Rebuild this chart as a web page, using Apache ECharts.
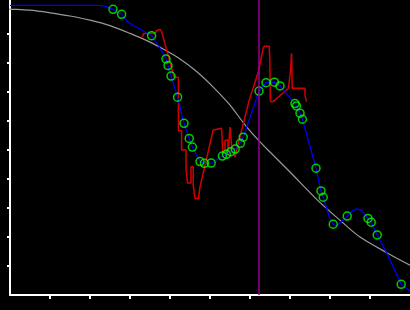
<!DOCTYPE html>
<html>
<head>
<meta charset="utf-8">
<script src="https://cdn.jsdelivr.net/npm/echarts@6/dist/echarts.min.js"></script>
<style>html,body{margin:0;padding:0;background:#000;}#c{width:410px;height:310px;}</style>
</head>
<body>
<div id="c"></div>
<script>
// Gray reference curve [x, y]
const grayCurve = [[-2.5,98.8],[0,98.6],[5,98.2],[10,97.3],[15,96.2],[20,94.8],[25,92.9],[30,90.2],[35,87.2],[38.3,84.8],[42.5,81.4],[46.8,76.9],[50.8,71.7],[55,65.5],[58.8,58.6],[62.5,52.8],[65,49.3],[70,42.4],[76.8,32.8],[83.3,24.8],[87.5,20.0],[94.3,14.5],[100,10.3]];
// Blue fitted curve
const blueCurve = [[0,99.9],[12.5,99.9],[21.75,99.9],[23.75,99.6],[25.75,98.5],[27.9,96.8],[29.25,94.5],[30.75,92.9],[32.5,91.7],[35.4,89.4],[37,86.2],[38.25,83.4],[39,81.4],[39.5,79.1],[40.25,75.5],[41.9,68.2],[43.5,59.2],[44.8,54.0],[45.6,51.0],[47.5,46.0],[48.6,45.4],[50.3,45.5],[53.1,47.9],[54.1,48.5],[55.2,49.4],[56.3,50.3],[57.6,52.3],[58.3,54.4],[62.25,70.3],[64,73.2],[66.1,73.4],[67.5,72.1],[71.25,66.0],[71.6,65.2],[72.5,62.7],[73.1,60.6],[76.5,43.7],[77.75,35.9],[78.3,33.7],[80,26.2],[80.8,24.4],[81.5,23.8],[82.75,25.2],[84.3,27.2],[85.5,29.0],[86.75,29.7],[88,29.0],[89.5,26.4],[90.3,25.1],[91.8,20.7],[94.2,14.4],[97.8,3.7],[100,1.4]];
// Green observation markers
const markerPoints = [[25.75,98.5],[27.9,96.8],[35.4,89.4],[39,81.4],[39.5,79.1],[40.25,75.5],[41.9,68.2],[43.5,59.2],[44.8,54.0],[45.6,51.0],[47.5,46.0],[48.6,45.4],[50.3,45.5],[53.1,47.9],[54.1,48.5],[55.2,49.4],[56.3,50.3],[57.6,52.3],[58.3,54.4],[62.25,70.3],[64,73.2],[66.1,73.4],[67.5,72.1],[71.25,66.0],[71.6,65.2],[72.5,62.7],[73.1,60.6],[76.5,43.7],[77.75,35.9],[78.3,33.7],[80.8,24.4],[84.3,27.2],[89.5,26.4],[90.3,25.1],[91.8,20.7],[97.8,3.7]];
// Red raw trace
const redTrace = [[33.1,88.9],[33.4,90.2],[34.6,90.2],[36.25,90.2],[36.7,91.1],[37.5,91.6],[37.9,90.8],[41,75.2],[42.1,75.0],[42.1,56.6],[42.9,56.6],[42.9,50.0],[44,50.0],[44,43.1],[44.4,43.1],[44.4,38.6],[45.25,38.6],[45.25,44.2],[45.8,44.2],[45.8,37.9],[46.25,37.9],[46.25,33.3],[47.1,33.3],[47.5,37.3],[50.8,56.9],[52.9,57.5],[53.2,57.5],[53.2,49.0],[53.75,49.0],[53.75,53.4],[54.5,53.4],[54.5,48.3],[55,48.3],[55,57.9],[55.4,57.9],[55.5,50.0],[56.25,47.6],[59.8,67.2],[62.1,77.0],[63.3,85.1],[63.6,85.8],[64.8,85.8],[64.95,81.0],[65.1,66.7],[65.8,66.7],[69.6,71.3],[70.1,71.3],[70.1,77.0],[70.4,77.0],[70.4,83.3],[70.55,83.3],[70.55,71.3],[73.75,71.3],[73.75,69.0],[74.1,69.0],[74.1,66.7]];
// Vertical marker position
const verticalX = 62.1;
const xTicks = [10,20,30,40,50,60,70,80,90];
const yTicks = [10,20,30,40,50,60,70,80,90];

const chart = echarts.init(document.getElementById('c'), null, {renderer:'canvas'});
chart.setOption({
  backgroundColor:'#000000',
  animation:false,
  grid:{left:10, right:0, top:0, bottom:15, containLabel:false},
  xAxis:{type:'value', min:0, max:100, interval:10,
    axisLine:{show:true, onZero:false, lineStyle:{color:'#ffffff', width:2}},
    axisTick:{show:true, length:4, customValues:xTicks, lineStyle:{color:'#ffffff', width:2}},
    axisLabel:{show:false}, splitLine:{show:false}},
  yAxis:{type:'value', min:0, max:101.72,
    axisLine:{show:true, onZero:false, lineStyle:{color:'#ffffff', width:2}},
    axisTick:{show:true, length:3, customValues:yTicks, lineStyle:{color:'#ffffff', width:2}},
    axisLabel:{show:false}, splitLine:{show:false}},
  series:[
    {type:'line', data:grayCurve, showSymbol:false, clip:false, smooth:0.3,
     lineStyle:{color:'#9a9a9a', width:1.2}, z:1},
    {type:'line', data:redTrace, showSymbol:false,
     lineStyle:{color:'#d40000', width:1.5}, z:2,
     markLine:{silent:true, symbol:'none', label:{show:false},
       lineStyle:{color:'#990099', width:1.5, type:'solid'},
       data:[{xAxis:verticalX}]}},
    {type:'line', data:blueCurve, showSymbol:false,
     lineStyle:{color:'#0000ff', width:1.2}, z:3},
    {type:'scatter', data:markerPoints, symbol:'circle', symbolSize:8,
     itemStyle:{color:'rgba(0,0,0,0)', borderColor:'#00ff00', borderWidth:1.5}, z:4}
  ]
});
</script>
</body>
</html>
